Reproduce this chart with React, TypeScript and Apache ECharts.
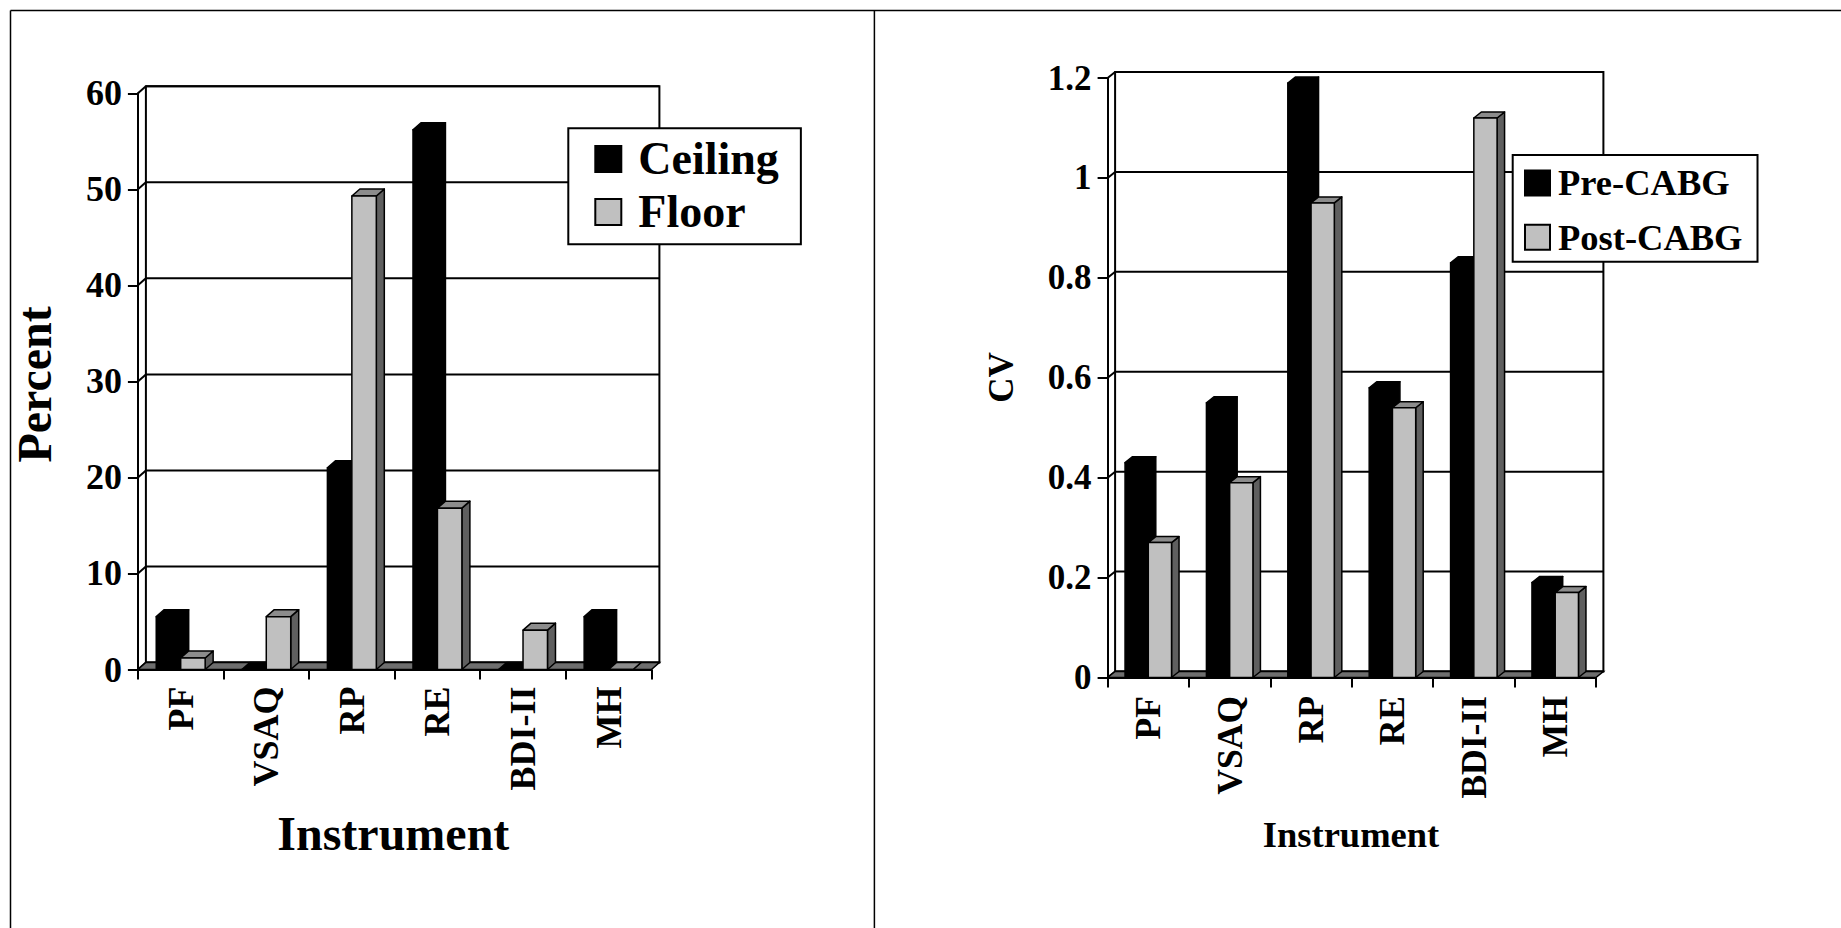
import React, { useEffect, useRef } from "react";
import * as echarts from "echarts";

// ---------- data ----------
const instruments = ["PF", "VSAQ", "RP", "RE", "BDI-II", "MH"];
const ceilingPct = [5.5, 0, 21, 56.2, 0, 5.5];
const floorPct = [1.2, 5.5, 49.3, 16.8, 4.1, 0];
const percentTicks = [0, 10, 20, 30, 40, 50, 60];

const preCABG = [0.43, 0.55, 1.19, 0.58, 0.83, 0.19];
const postCABG = [0.27, 0.39, 0.95, 0.54, 1.12, 0.17];
const cvTicks = [0, 0.2, 0.4, 0.6, 0.8, 1, 1.2];

// ---------- style ----------
const FONT = "Liberation Serif";
const BLACK = "#000000";
const GRAY_FRONT = "#c0c0c0";
const GRAY_TOP = "#8c8c8c";
const GRAY_SIDE = "#5f5f5f";
const FLOOR = "#6e6e6e";

function wallRenderer(ticks: number[], dx: number, dy: number) {
  return (params: any, api: any) => {
    const cs = params.coordSys;
    const left = cs.x;
    const right = cs.x + cs.width;
    const top = cs.y;
    const bottom = cs.y + cs.height;
    const children: any[] = [];
    children.push({
      type: "rect",
      shape: { x: left + dx, y: top + dy, width: cs.width, height: cs.height },
      style: { fill: "#ffffff", stroke: BLACK, lineWidth: 2 },
    });
    ticks.forEach((v) => {
      const y = api.coord([0, v])[1];
      children.push({
        type: "line",
        shape: { x1: left + dx, y1: y + dy, x2: right + dx, y2: y + dy },
        style: { stroke: BLACK, lineWidth: 2 },
      });
      children.push({
        type: "line",
        shape: { x1: left, y1: y, x2: left + dx, y2: y + dy },
        style: { stroke: BLACK, lineWidth: 2 },
      });
    });
    children.push({
      type: "polygon",
      shape: {
        points: [
          [left, bottom],
          [right, bottom],
          [right + dx, bottom + dy],
          [left + dx, bottom + dy],
        ],
      },
      style: { fill: FLOOR, stroke: BLACK, lineWidth: 1.5 },
    });
    return { type: "group", children };
  };
}

function barRenderer(
  slot: number,
  front: string,
  topC: string,
  sideC: string,
  dx: number,
  dy: number
) {
  return (params: any, api: any) => {
    const idx = api.value(0);
    const val = api.value(1);
    const p = api.coord([idx, val]);
    const base = api.coord([idx, 0])[1];
    const band = api.size([1, 0])[0];
    const w = band / 3.5;
    const x0 = slot === 0 ? p[0] - w : p[0];
    const x1 = x0 + w;
    const yt = p[1];
    const st = { stroke: BLACK, lineWidth: 1.5, lineJoin: "round" };
    return {
      type: "group",
      children: [
        {
          type: "polygon",
          shape: {
            points: [
              [x1, yt],
              [x1 + dx, yt + dy],
              [x1 + dx, base + dy],
              [x1, base],
            ],
          },
          style: { fill: sideC, ...st },
        },
        {
          type: "polygon",
          shape: {
            points: [
              [x0, yt],
              [x1, yt],
              [x1 + dx, yt + dy],
              [x0 + dx, yt + dy],
            ],
          },
          style: { fill: topC, ...st },
        },
        {
          type: "rect",
          shape: { x: x0, y: yt, width: w, height: base - yt },
          style: { fill: front, ...st },
        },
      ],
    };
  };
}

const L = { left: 137.9, top: 93.3, width: 513.5, height: 576.2, dx: 8, dy: -7 };
const R = { left: 1107.6, top: 78, width: 488.3, height: 599.5, dx: 7.5, dy: -6 };

function yAxisCfg(gridIndex: number, max: number, interval: number, fs: number) {
  return {
    type: "value",
    gridIndex,
    min: 0,
    max,
    interval,
    splitLine: { show: false },
    axisLine: { show: true, lineStyle: { color: BLACK, width: 2 } },
    axisTick: { show: true, length: 10, lineStyle: { color: BLACK, width: 2 } },
    axisLabel: {
      margin: 16,
      color: BLACK,
      fontFamily: FONT,
      fontWeight: "bold",
      fontSize: fs,
    },
  };
}

function xAxisCfg(gridIndex: number, fs: number, margin: number) {
  return {
    type: "category",
    gridIndex,
    data: instruments,
    boundaryGap: true,
    axisLine: { show: true, lineStyle: { color: BLACK, width: 2 } },
    axisTick: {
      show: true,
      length: 10,
      interval: 0,
      lineStyle: { color: BLACK, width: 2 },
    },
    axisLabel: {
      interval: 0,
      rotate: 90,
      margin,
      color: BLACK,
      fontFamily: FONT,
      fontWeight: "bold",
      fontSize: fs,
    },
    splitLine: { show: false },
  };
}

export default function App() {
  const ref = useRef<HTMLDivElement>(null);

  useEffect(() => {
    if (!ref.current) return;
    const chart = echarts.init(ref.current, undefined, { renderer: "svg" });

    const option: any = {
      animation: false,
      backgroundColor: "#ffffff",
      textStyle: { fontFamily: FONT },
      grid: [
        { left: L.left, top: L.top, width: L.width, height: L.height },
        { left: R.left, top: R.top, width: R.width, height: R.height },
      ],
      xAxis: [xAxisCfg(0, 36, 17), xAxisCfg(1, 35.5, 18.5)],
      yAxis: [yAxisCfg(0, 60, 10, 36), yAxisCfg(1, 1.2, 0.2, 35)],
      legend: [
        {
          left: 568.3,
          top: 128.3,
          orient: "vertical",
          icon: "rect",
          selectedMode: false,
          data: [
            { name: "Ceiling", itemStyle: { color: BLACK } },
            { name: "Floor", itemStyle: { color: GRAY_FRONT } },
          ],
          itemWidth: 26,
          itemHeight: 26,
          itemGap: 5,
          itemStyle: { borderColor: BLACK, borderWidth: 2 },
          textStyle: {
            fontFamily: FONT,
            fontWeight: "bold",
            fontSize: 46,
            lineHeight: 48,
            color: BLACK,
            padding: [0, 0, 0, 12],
          },
          backgroundColor: "#ffffff",
          borderColor: BLACK,
          borderWidth: 2,
          padding: [6.6, 22, 8.4, 26],
        },
        {
          left: 1512.7,
          top: 155,
          orient: "vertical",
          icon: "rect",
          selectedMode: false,
          data: [
            { name: "Pre-CABG", itemStyle: { color: BLACK } },
            { name: "Post-CABG", itemStyle: { color: GRAY_FRONT } },
          ],
          itemWidth: 25,
          itemHeight: 25,
          itemGap: 14.3,
          itemStyle: { borderColor: BLACK, borderWidth: 2 },
          textStyle: {
            fontFamily: FONT,
            fontWeight: "bold",
            fontSize: 36.5,
            lineHeight: 40,
            color: BLACK,
            padding: [0, 0, 0, 3],
          },
          backgroundColor: "#ffffff",
          borderColor: BLACK,
          borderWidth: 2,
          padding: [7.9, 15, 4.5, 11.3],
        },
      ],
      graphic: [
        { type: "line", shape: { x1: 10.5, y1: 10.5, x2: 1841, y2: 10.5 }, style: { stroke: BLACK, lineWidth: 1.5 } },
        { type: "line", shape: { x1: 10.5, y1: 10.5, x2: 10.5, y2: 928 }, style: { stroke: BLACK, lineWidth: 1.5 } },
        { type: "line", shape: { x1: 874.4, y1: 10.5, x2: 874.4, y2: 928 }, style: { stroke: BLACK, lineWidth: 1.5 } },
        {
          type: "text",
          x: 34,
          y: 384.4,
          rotation: Math.PI / 2,
          style: { text: "Percent", fontFamily: FONT, fontWeight: "bold", fontSize: 48, fill: BLACK, align: "center", verticalAlign: "middle" },
        },
        {
          type: "text",
          x: 393.3,
          y: 833,
          style: { text: "Instrument", fontFamily: FONT, fontWeight: "bold", fontSize: 48, fill: BLACK, align: "center", verticalAlign: "middle" },
        },
        {
          type: "text",
          x: 1001.5,
          y: 377.5,
          rotation: Math.PI / 2,
          style: { text: "CV", fontFamily: FONT, fontWeight: "bold", fontSize: 35, fill: BLACK, align: "center", verticalAlign: "middle" },
        },
        {
          type: "text",
          x: 1351,
          y: 834.5,
          style: { text: "Instrument", fontFamily: FONT, fontWeight: "bold", fontSize: 36.5, fill: BLACK, align: "center", verticalAlign: "middle" },
        },
      ],
      series: [
        {
          type: "custom",
          name: "wallsL",
          xAxisIndex: 0,
          yAxisIndex: 0,
          z: 1,
          silent: true,
          data: [[0, 0]],
          renderItem: wallRenderer(percentTicks, L.dx, L.dy),
        },
        {
          type: "custom",
          name: "Ceiling",
          xAxisIndex: 0,
          yAxisIndex: 0,
          z: 2,
          itemStyle: { color: BLACK },
          data: instruments.map((_, i) => [i, ceilingPct[i]]),
          renderItem: barRenderer(0, BLACK, BLACK, BLACK, L.dx, L.dy),
        },
        {
          type: "custom",
          name: "Floor",
          xAxisIndex: 0,
          yAxisIndex: 0,
          z: 3,
          itemStyle: { color: GRAY_FRONT },
          data: instruments.map((_, i) => [i, floorPct[i]]),
          renderItem: barRenderer(1, GRAY_FRONT, GRAY_TOP, GRAY_SIDE, L.dx, L.dy),
        },
        {
          type: "custom",
          name: "wallsR",
          xAxisIndex: 1,
          yAxisIndex: 1,
          z: 1,
          silent: true,
          data: [[0, 0]],
          renderItem: wallRenderer(cvTicks, R.dx, R.dy),
        },
        {
          type: "custom",
          name: "Pre-CABG",
          xAxisIndex: 1,
          yAxisIndex: 1,
          z: 2,
          itemStyle: { color: BLACK },
          data: instruments.map((_, i) => [i, preCABG[i]]),
          renderItem: barRenderer(0, BLACK, BLACK, BLACK, R.dx, R.dy),
        },
        {
          type: "custom",
          name: "Post-CABG",
          xAxisIndex: 1,
          yAxisIndex: 1,
          z: 3,
          itemStyle: { color: GRAY_FRONT },
          data: instruments.map((_, i) => [i, postCABG[i]]),
          renderItem: barRenderer(1, GRAY_FRONT, GRAY_TOP, GRAY_SIDE, R.dx, R.dy),
        },
      ],
    };

    chart.setOption(option);
    return () => chart.dispose();
  }, []);

  return (
    <div
      ref={ref}
      style={{ position: "fixed", left: 0, top: 0, width: 1841, height: 928, background: "#ffffff" }}
    />
  );
}
